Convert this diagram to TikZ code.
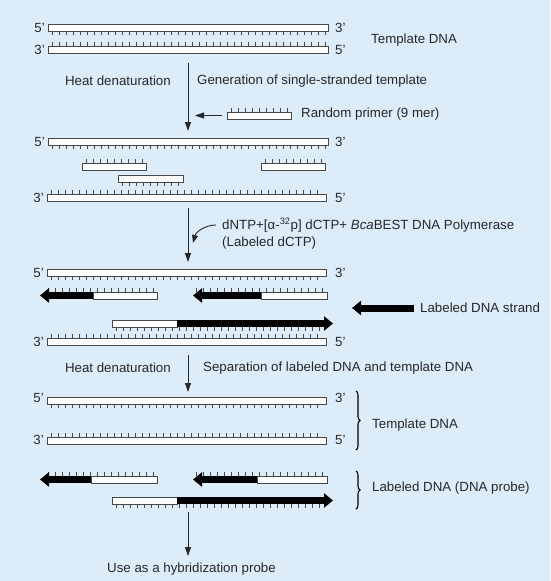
\documentclass[tikz,border=0pt]{standalone}
\usepackage{fontspec}
\setmainfont{Liberation Sans}
\usepackage{tikz}
\usetikzlibrary{arrows.meta,decorations.pathreplacing}
\definecolor{bgblue}{RGB}{220,236,249}
\definecolor{ink}{RGB}{40,40,40}
\newcommand{\dnaticks}[4]{% first x, last x, edge y, length (+ down, - up)
  \pgfmathsetmacro{\tka}{#1}\pgfmathsetmacro{\tkb}{#1+7}\pgfmathsetmacro{\tkc}{#2}
  \foreach \t in {\tka,\tkb,...,\tkc} \draw[tickmark] (\t,#3) -- ++(0,#4);}
\newcommand{\dnastrand}[4]{% left x, right x, top y, ticks below (1) or above (-1)
  \draw[strand] (#1,#3) rectangle (#2,#3+7);
  \ifnum#4>0 \dnaticks{#1+4}{#2-3}{#3+7}{4}\else\dnaticks{#1+4}{#2-3}{#3}{-4}\fi}
\newcommand{\probeleft}[4]{% tip x, join x, right x, top y
  \draw[labeled] (#2,#4+3.5) -- (#1,#4+3.5); \draw[strand] (#2,#4) rectangle (#3,#4+7);}
\newcommand{\proberight}[4]{% left x, join x, tip x, top y
  \draw[strand] (#1,#4) rectangle (#2,#4+7); \draw[labeled] (#2,#4+3.5) -- (#3,#4+3.5);}

\begin{document}
\begin{tikzpicture}[x=1pt,y=-1pt, font=\fontsize{13.3}{15}\selectfont, text=ink,
  strand/.style={draw=ink!85,fill=white,line width=0.75pt},
  tickmark/.style={draw=ink!85,line width=0.6pt},
  labeled/.style={line width=7pt,draw=black,-{Triangle[length=9pt,width=14pt]}},
  flow/.style={draw=ink,line width=0.9pt,-{Triangle[length=9pt,width=6pt]}},
  lbl/.style={inner sep=0pt},
  bracket/.style={draw=black,line width=1.1pt,decorate,decoration={brace,amplitude=4pt}}]
\fill[bgblue] (0,0) rectangle (550,581);
\useasboundingbox (0,0) rectangle (550,581);

% double-stranded template
\dnastrand{48}{328}{24}{1} \dnastrand{48}{328}{46}{-1}
\node[lbl,anchor=east] (l1a) at (45,27.5) {5'}; \node[lbl,anchor=west] (r1a) at (335,27.5) {3'};
\node[lbl,anchor=east] (l1b) at (45,49.5) {3'}; \node[lbl,anchor=west] (r1b) at (335,49.5) {5'};
\node[lbl,anchor=west] (tmpl1) at (371,40) {Template DNA};

\coordinate (a1s) at (188,63); \coordinate (a1e) at (188,131);
\draw[flow] (a1s) -- (a1e);
\node[lbl,anchor=east] (heat1) at (171,81) {Heat denaturation};
\node[lbl,anchor=west] (gen) at (197,81) {Generation of single-stranded template};
\dnastrand{227}{291}{112}{-1}
\node[lbl,anchor=west] (rp) at (301,114) {Random primer (9 mer)};
\coordinate (rps) at (222,115.5); \coordinate (rpe) at (195,115.5);
\draw[flow] (rps) -- (rpe);

% primers annealed
\dnastrand{48}{328}{138}{1}
\node[lbl,anchor=east] (l2a) at (45,141.5) {5'}; \node[lbl,anchor=west] (r2a) at (335,141.5) {3'};
\dnastrand{82}{146}{163}{-1} \dnastrand{118}{183}{175}{1} \dnastrand{261}{325}{163}{-1}
\dnastrand{47}{326}{194}{-1}
\node[lbl,anchor=east] (l2b) at (44,197.5) {3'}; \node[lbl,anchor=west] (r2b) at (335,197.5) {5'};

\coordinate (a2s) at (188,208); \coordinate (a2e) at (188,262);
\draw[flow] (a2s) -- (a2e);
\node[lbl,anchor=west] (mix) at (222,225) {dNTP+[α-\textsuperscript{32}p] dCTP+ \textit{Bca}BEST DNA Polymerase};
\node[lbl,anchor=west] (mixlab) at (222,243) {(Labeled dCTP)};
\coordinate (a2hit) at (193,243);
\draw[ink,line width=0.9pt,-{Triangle[length=8pt,width=6pt]}] ([xshift=-6pt]mix.west) .. controls (205,225) and (196,232) .. (a2hit);

% extension with labeled dCTP
\dnastrand{47}{326}{269}{1}
\node[lbl,anchor=east] (l3a) at (44,272.5) {5'}; \node[lbl,anchor=west] (r3a) at (335,272.5) {3'};
\dnaticks{48}{157}{292}{-4} \probeleft{40}{93}{157}{292}
\dnaticks{196}{325}{292}{-4} \probeleft{193}{261}{327}{292}
\dnaticks{116}{323}{327}{4} \proberight{112}{177}{333}{320}
\dnastrand{47}{326}{338}{-1}
\node[lbl,anchor=east] (l3b) at (44,341.5) {3'}; \node[lbl,anchor=west] (r3b) at (335,341.5) {5'};
\node[lbl,anchor=west] (lds) at (420,308) {Labeled DNA strand};
\coordinate (ldstip) at (352,308);
\draw[labeled] ([xshift=-6pt]lds.west) -- (ldstip);

\coordinate (a3s) at (188,355); \coordinate (a3e) at (188,392);
\draw[flow] (a3s) -- (a3e);
\node[lbl,anchor=east] (heat2) at (171,368) {Heat denaturation};
\node[lbl,anchor=west] (sep) at (203,368) {Separation of labeled DNA and template DNA};

% separated strands
\dnastrand{47}{326}{397}{1}
\node[lbl,anchor=east] (l4a) at (44,398) {5'}; \node[lbl,anchor=west] (r4a) at (335,398) {3'};
\dnastrand{47}{326}{437}{-1}
\node[lbl,anchor=east] (l4b) at (44,440) {3'}; \node[lbl,anchor=west] (r4b) at (335,440) {5'};
\dnaticks{48}{157}{476}{-4} \probeleft{40}{91}{157}{476}
\dnaticks{196}{325}{476}{-4} \probeleft{193}{257}{327}{476}
\dnaticks{116}{323}{504}{4} \proberight{112}{177}{333}{497}
\coordinate (b1s) at (356,391); \coordinate (b1e) at (356,450);
\draw[bracket] (b1s) -- (b1e);
\node[lbl,anchor=west] (tmpl2) at (372,425) {Template DNA};
\coordinate (b2s) at (356,471); \coordinate (b2e) at (356,509);
\draw[bracket] (b2s) -- (b2e);
\node[lbl,anchor=west] (probe) at (372,488) {Labeled DNA (DNA probe)};

\coordinate (a4s) at (188,512); \coordinate (a4e) at (188,556);
\draw[flow] (a4s) -- (a4e);
\node[lbl,anchor=west] (use) at (107,569) {Use as a hybridization probe};
\end{tikzpicture}
\end{document}
